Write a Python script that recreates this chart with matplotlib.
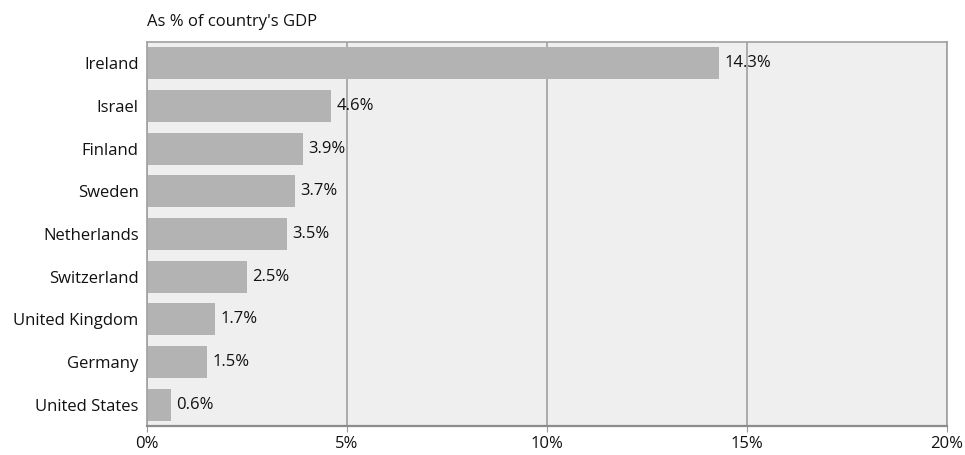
import matplotlib
matplotlib.use("Agg")
import matplotlib.pyplot as plt
from matplotlib.ticker import FuncFormatter

plt.rcParams['font.family'] = ['Open Sans', 'DejaVu Sans']

countries = ["Ireland", "Israel", "Finland", "Sweden", "Netherlands",
             "Switzerland", "United Kingdom", "Germany", "United States"]
shares = [14.3, 4.6, 3.9, 3.7, 3.5, 2.5, 1.7, 1.5, 0.6]
xticks = [0, 5, 10, 15, 20]

fig = plt.figure(figsize=(9.65, 4.55), dpi=100)
ax = fig.add_axes([0.1523, 0.0637, 0.829, 0.844])
ax.set_facecolor("#efefef")

y = list(range(len(countries)))
ax.barh(y, shares, height=0.75, color="#b3b3b3", zorder=2)
for yi, v in zip(y, shares):
    ax.annotate(f"{v}%", (v, yi), xytext=(4, 0), textcoords="offset points",
                va="center", ha="left", fontsize=12, color="#111111", zorder=3)

ax.set_xlim(0, 20)
ax.set_ylim(len(countries) - 0.5, -0.5)
ax.set_yticks(y)
ax.set_yticklabels(countries, fontsize=12, color="#111111")
ax.set_xticks(xticks)
ax.xaxis.set_major_formatter(FuncFormatter(lambda v, p: f"{v:.0f}%"))
ax.tick_params(axis="x", labelsize=12, labelcolor="#111111", length=4,
               color="#999999", pad=3)
ax.tick_params(axis="y", length=0, pad=6)
ax.grid(axis="x", color="#a0a0a0", linewidth=1.2, zorder=1)

for side in ["top", "right", "left"]:
    ax.spines[side].set_color("#a0a0a0")
    ax.spines[side].set_linewidth(1.2)
ax.spines["bottom"].set_color("#8c8c8c")
ax.spines["bottom"].set_linewidth(1.6)

fig.text(0.1523, 0.935, "As % of country's GDP", fontsize=12, color="#111111",
         ha="left", va="bottom")

fig.savefig("out.png", dpi=100)
